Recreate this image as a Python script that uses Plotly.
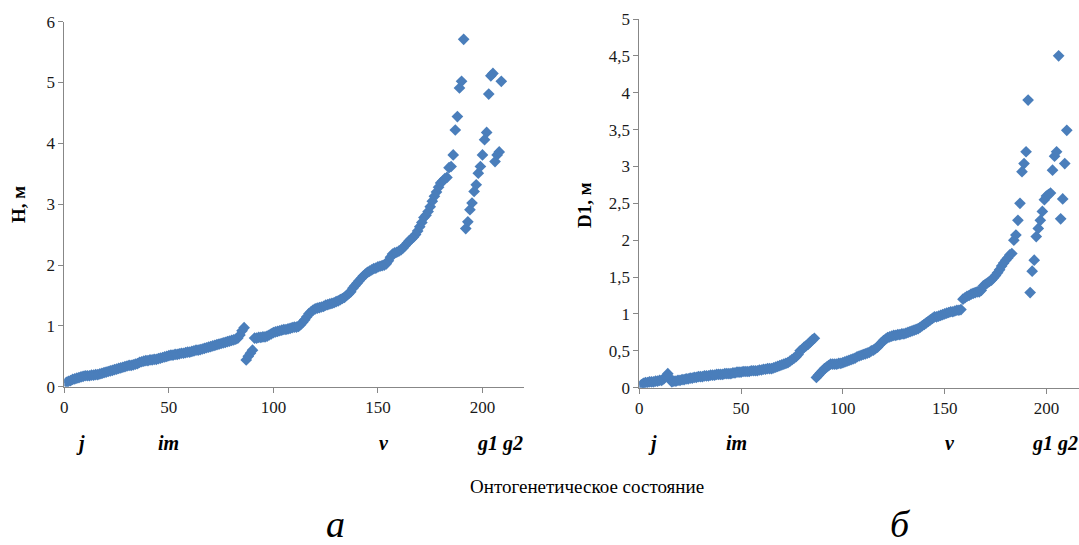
import plotly.graph_objects as go

# ---------------- data ----------------
H_values = [
    0.07, 0.09, 0.10, 0.12, 0.13, 0.14, 0.15, 0.16, 0.17, 0.18,
    0.18, 0.18, 0.19, 0.19, 0.20, 0.20, 0.21, 0.22, 0.23, 0.24,
    0.25, 0.26, 0.27, 0.28, 0.29, 0.30, 0.31, 0.32, 0.33, 0.34,
    0.35, 0.35, 0.36, 0.37, 0.38, 0.40, 0.41, 0.42, 0.43, 0.43,
    0.44, 0.44, 0.45, 0.45, 0.46, 0.47, 0.48, 0.49, 0.50, 0.51,
    0.52, 0.52, 0.53, 0.53, 0.54, 0.55, 0.55, 0.56, 0.57, 0.57,
    0.58, 0.59, 0.60, 0.60, 0.61, 0.62, 0.63, 0.64, 0.65, 0.66,
    0.67, 0.68, 0.69, 0.70, 0.71, 0.72, 0.73, 0.74, 0.75, 0.76,
    0.77, 0.78, 0.80, 0.85, 0.92, 0.97,
    0.44, 0.50, 0.55, 0.60,
    0.80, 0.80, 0.81, 0.81, 0.82, 0.82, 0.83, 0.85, 0.87, 0.89,
    0.90, 0.91, 0.92, 0.93, 0.94, 0.94, 0.95, 0.96, 0.97, 0.98, 0.98, 0.99,
    1.02, 1.06, 1.10, 1.15, 1.20, 1.23, 1.26, 1.28,
    1.29, 1.30, 1.31, 1.32, 1.34, 1.35, 1.36, 1.37, 1.38, 1.40,
    1.41, 1.43, 1.45, 1.47, 1.50, 1.53, 1.56, 1.62, 1.66, 1.70,
    1.74, 1.78, 1.82, 1.85, 1.88, 1.90, 1.92, 1.94, 1.95, 1.97,
    1.98, 1.99, 2.00, 2.02, 2.07, 2.13, 2.18, 2.20, 2.21, 2.23,
    2.25, 2.28, 2.32, 2.36, 2.40, 2.43, 2.46, 2.50, 2.56, 2.63,
    2.70, 2.78, 2.82, 2.88, 2.96, 3.05, 3.13, 3.20, 3.28, 3.35,
    3.38, 3.42, 3.44, 3.60, 3.62, 3.81,
    4.22, 4.44, 4.91, 5.02, 5.71,
    2.60, 2.71, 2.91, 3.02, 3.21, 3.32, 3.51, 3.62, 3.81, 4.06,
    4.18, 4.81, 5.11, 5.15, 3.70, 3.81, 3.86, 5.02,
]

D1_values = [
    0.04, 0.06, 0.07, 0.07, 0.08, 0.08, 0.08, 0.09, 0.09, 0.10,
    0.10, 0.12, 0.15, 0.19, 0.13,
    0.08, 0.09, 0.09, 0.10, 0.10,
    0.11, 0.11, 0.12, 0.12, 0.13, 0.13, 0.14, 0.14, 0.15, 0.15,
    0.15, 0.16, 0.16, 0.16, 0.17, 0.17, 0.17, 0.18, 0.18, 0.18,
    0.18, 0.19, 0.19, 0.19, 0.19, 0.20, 0.20, 0.21, 0.21, 0.21,
    0.22, 0.22, 0.22, 0.22, 0.23, 0.23, 0.23, 0.23, 0.24, 0.24,
    0.25, 0.25, 0.26, 0.26, 0.26, 0.27, 0.28, 0.29, 0.30, 0.31,
    0.32, 0.33, 0.34, 0.36, 0.38, 0.40, 0.42, 0.45, 0.50, 0.52,
    0.55, 0.57, 0.59, 0.62, 0.65, 0.67,
    0.14, 0.17, 0.20, 0.23, 0.26, 0.28, 0.30, 0.32, 0.32, 0.32,
    0.32, 0.33, 0.33, 0.34,
    0.35, 0.36, 0.37, 0.38, 0.39, 0.40, 0.42, 0.43, 0.44, 0.45,
    0.46, 0.47, 0.48, 0.50, 0.51, 0.53, 0.55, 0.58, 0.61, 0.64,
    0.66, 0.68, 0.69, 0.70, 0.71, 0.71, 0.72, 0.72, 0.73, 0.73,
    0.74, 0.75, 0.76, 0.77, 0.78, 0.79, 0.80, 0.82, 0.84, 0.86,
    0.88, 0.90, 0.92, 0.94, 0.96, 0.96, 0.97, 0.98, 0.99, 1.00,
    1.01, 1.02, 1.03, 1.03, 1.04, 1.05, 1.05, 1.06, 1.20, 1.22,
    1.24, 1.25, 1.27, 1.28, 1.29, 1.30, 1.30, 1.32, 1.38, 1.40,
    1.42, 1.44, 1.46, 1.49, 1.52, 1.56, 1.60, 1.65, 1.69, 1.73,
    1.76, 1.80, 1.82, 2.00, 2.07, 2.27,
    2.50, 2.93, 3.04, 3.20, 3.90,
    1.29, 1.58, 1.73, 2.05, 2.16, 2.27, 2.39, 2.55, 2.60, 2.62,
    2.64, 2.95, 3.14, 3.20, 4.50, 2.29, 2.56, 3.04, 3.49,
]

H_index = list(range(1, len(H_values) + 1))
D1_index = list(range(1, len(D1_values) + 1))

x_tickvals = [0, 50, 100, 150, 200]
H_tickvals = [0, 1, 2, 3, 4, 5, 6]
D1_tickvals = [0, 0.5, 1, 1.5, 2, 2.5, 3, 3.5, 4, 4.5, 5]
D1_ticktext = ["0", "0,5", "1", "1,5", "2", "2,5", "3", "3,5", "4", "4,5", "5"]

stage_labels = ["j", "im", "v", "g1 g2"]
stage_px_left = [80, 168, 384, 500]
stage_px_right = [652, 736, 950, 1055]

x_title = "Онтогенетическое состояние"
H_title = "H, м"
D1_title = "D1, м"
panel_labels = ["а", "б"]

# ---------------- figure ----------------
W, H = 1079, 545
FONT = "Liberation Serif, Times New Roman, serif"
BLUE = "#4A7EBB"
AXIS = "#878787"
TXT = "#1a1a1a"


def px(x, y):
    return x / W, 1 - y / H


fig = go.Figure()
marker = dict(symbol="diamond", size=9, color=BLUE, line=dict(width=0))
fig.add_trace(go.Scatter(x=H_index, y=H_values, mode="markers", marker=marker,
                         xaxis="x", yaxis="y", showlegend=False, hoverinfo="skip"))
fig.add_trace(go.Scatter(x=D1_index, y=D1_values, mode="markers", marker=marker,
                         xaxis="x2", yaxis="y2", showlegend=False, hoverinfo="skip"))

axis_common = dict(showgrid=False, zeroline=False, showline=True, linecolor=AXIS,
                   linewidth=1, ticks="outside", ticklen=5, tickcolor=AXIS,
                   automargin=False,
                   tickfont=dict(family=FONT, size=17, color=TXT))

fig.update_layout(
    template="none",
    font=dict(family=FONT, color="black"),
    width=W, height=H,
    autosize=False,
    margin=dict(l=0, r=0, t=0, b=0, pad=0),
    paper_bgcolor="white", plot_bgcolor="white",
    xaxis=dict(domain=[64.3 / W, 524.3 / W], range=[0, 220], tickvals=x_tickvals,
               anchor="y", **axis_common),
    yaxis=dict(domain=[1 - 386.7 / H, 1 - 21.7 / H], range=[0, 6], tickvals=H_tickvals,
               anchor="x", **axis_common),
    xaxis2=dict(domain=[639.3 / W, 1.0], range=[0, 216], tickvals=x_tickvals,
                anchor="y2", **axis_common),
    yaxis2=dict(domain=[1 - 387.7 / H, 1 - 19 / H], range=[0, 5], tickvals=D1_tickvals,
                ticktext=D1_ticktext, anchor="x2", **axis_common),
)

ann = []
for lab, xp in zip(stage_labels, stage_px_left):
    ax, ay = px(xp, 443)
    ann.append(dict(x=ax, y=ay, text=lab))
for lab, xp in zip(stage_labels, stage_px_right):
    ax, ay = px(xp, 443)
    ann.append(dict(x=ax, y=ay, text=lab))
for a in ann:
    a.update(xref="paper", yref="paper", showarrow=False, xanchor="center", yanchor="middle",
             font=dict(family=FONT, size=20, color="black", weight="bold", style="italic"))

ax, ay = px(587, 486)
ann.append(dict(x=ax, y=ay, xref="paper", yref="paper", showarrow=False, text=x_title,
                xanchor="center", yanchor="middle",
                font=dict(family=FONT, size=19, color="black")))
for lab, xp in zip(panel_labels, [335, 900]):
    ax, ay = px(xp, 524)
    ann.append(dict(x=ax, y=ay, xref="paper", yref="paper", showarrow=False,
                    xanchor="center", yanchor="middle", text=lab,
                    font=dict(family=FONT, size=38, color="black", style="italic")))
for lab, (xp, yp) in zip([H_title, D1_title], [(19, 205), (585, 205)]):
    ax, ay = px(xp, yp)
    ann.append(dict(x=ax, y=ay, xref="paper", yref="paper", showarrow=False,
                    xanchor="center", yanchor="middle", text=lab, textangle=-90,
                    font=dict(family=FONT, size=19, color="black", weight="bold")))

fig.update_layout(annotations=ann)
fig.write_html("out.html",
               config={"displayModeBar": False, "responsive": False},
               post_script="document.body.style.margin='0';document.body.style.overflow='hidden';")
